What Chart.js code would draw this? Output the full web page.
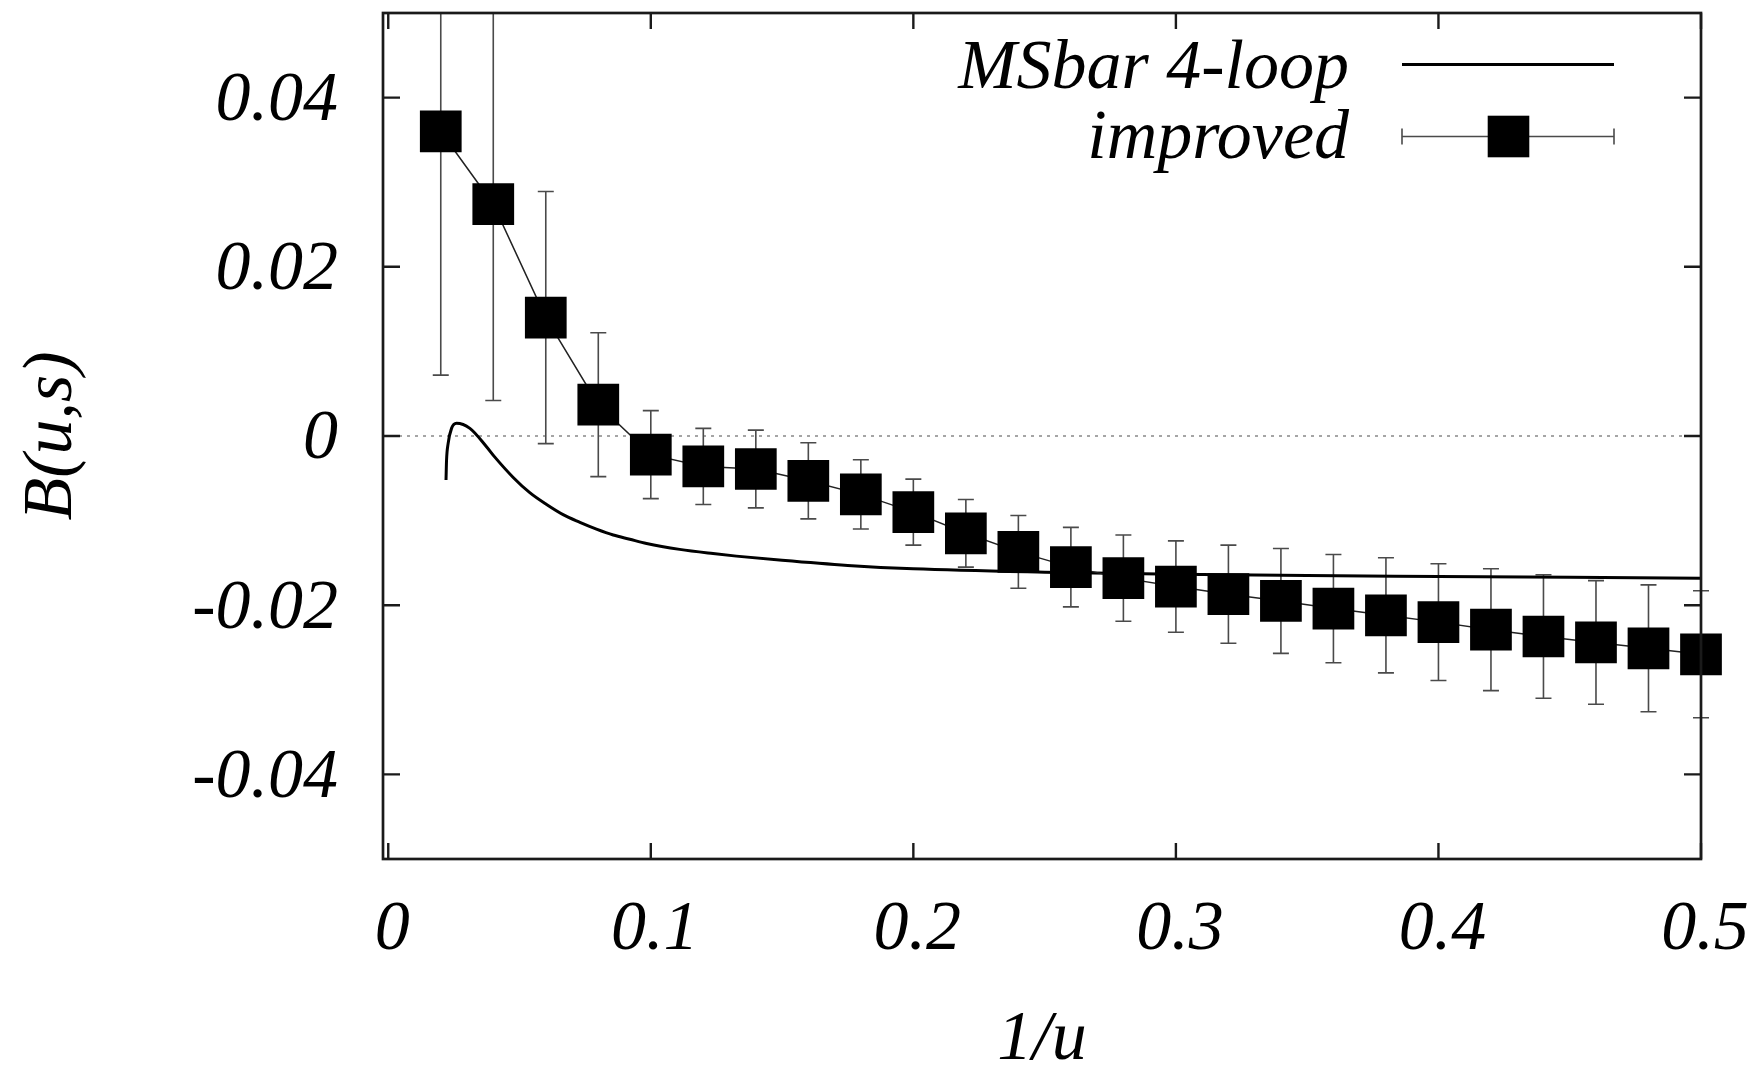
<!DOCTYPE html>
<html><head><meta charset="utf-8">
<script src="https://cdn.jsdelivr.net/npm/chart.js@4/dist/chart.umd.min.js"></script>
<style>html,body{margin:0;padding:0;background:#fff}canvas{display:block}</style>
</head><body>
<canvas id="c" width="1761" height="1066"></canvas>
<script>
// ---- data ----
const xTickValues = [0, 0.1, 0.2, 0.3, 0.4, 0.5];
const xTickLabels = ['0', '0.1', '0.2', '0.3', '0.4', '0.5'];
const yTickValues = [-0.04, -0.02, 0, 0.02, 0.04];
const yTickLabels = ['-0.04', '-0.02', '0', '0.02', '0.04'];

const improvedX = [0.02, 0.04, 0.06, 0.08, 0.10, 0.12, 0.14, 0.16, 0.18, 0.20, 0.22, 0.24, 0.26,
                   0.28, 0.30, 0.32, 0.34, 0.36, 0.38, 0.40, 0.42, 0.44, 0.46, 0.48, 0.50];
const improvedY = [0.0360, 0.0274, 0.0140, 0.0037, -0.0022, -0.0036, -0.0039, -0.0053, -0.0069,
                   -0.0090, -0.0115, -0.0137, -0.0155, -0.0168, -0.0178, -0.0187, -0.0195, -0.0204,
                   -0.0212, -0.0220, -0.0229, -0.0237, -0.0244, -0.0251, -0.0258];
const improvedErr = [0.0288, 0.0232, 0.0149, 0.0085, 0.0052, 0.0045, 0.0046, 0.0045, 0.0041,
                     0.0039, 0.0040, 0.0043, 0.0047, 0.0051, 0.0054, 0.0058, 0.0062, 0.0064,
                     0.0068, 0.0069, 0.0072, 0.0073, 0.0073, 0.0075, 0.0075];

const msbarX = [0.0220, 0.0222, 0.0228, 0.0241, 0.0260, 0.0311, 0.0375, 0.0406, 0.0476, 0.0539,
                0.0603, 0.0666, 0.0730, 0.0793, 0.0857, 0.0920, 0.0984, 0.1110, 0.1237, 0.1326,
                0.15, 0.175, 0.2, 0.25, 0.3, 0.35, 0.4, 0.45, 0.5];
const msbarY = [-0.0052, -0.0029, -0.0009, 0.0009, 0.0015, 0.0009, -0.0013, -0.0025, -0.0049,
                -0.0067, -0.0081, -0.0093, -0.0102, -0.0110, -0.0117, -0.0122, -0.0127, -0.0134,
                -0.0139, -0.0142, -0.0147, -0.0153, -0.0157, -0.0161, -0.01635, -0.0165,
                -0.0166, -0.0167, -0.0168];

const seriesLabels = ['improved', 'MSbar 4-loop'];
const xTitle = '1/u';
const yTitle = 'B(u,s)';

// ---- chart ----
const FONT = 'Liberation Serif';
Chart.defaults.font.family = FONT;
Chart.defaults.font.style = 'italic';
Chart.defaults.color = '#000';

const zip = (xs, ys) => xs.map((x, i) => ({x, y: ys[i]}));
const zeroPad = s => { s.paddingTop = 0; s.paddingBottom = 0; s.paddingLeft = 0; s.paddingRight = 0; };

const gnuplotPlugin = {
  id: 'gnuplot',
  beforeDatasetsDraw(chart) {
    const {ctx, chartArea: a, scales: {x, y}} = chart;
    ctx.save();
    // zero line (dotted)
    const y0 = y.getPixelForValue(0);
    ctx.strokeStyle = '#888';
    ctx.lineWidth = 1.6;
    ctx.setLineDash([3, 5]);
    ctx.beginPath();
    ctx.moveTo(a.left, y0);
    ctx.lineTo(a.right, y0);
    ctx.stroke();
    ctx.setLineDash([]);
    // error bars (clipped vertically to the plot)
    ctx.beginPath();
    ctx.rect(0, a.top, chart.width, a.bottom - a.top);
    ctx.clip();
    ctx.strokeStyle = '#4a4a4a';
    ctx.lineWidth = 1.6;
    for (let i = 0; i < improvedX.length; i++) {
      const px = x.getPixelForValue(improvedX[i]);
      const pt = y.getPixelForValue(improvedY[i] + improvedErr[i]);
      const pb = y.getPixelForValue(improvedY[i] - improvedErr[i]);
      ctx.beginPath();
      ctx.moveTo(px, pt); ctx.lineTo(px, pb);
      ctx.moveTo(px - 8, pt); ctx.lineTo(px + 8, pt);
      ctx.moveTo(px - 8, pb); ctx.lineTo(px + 8, pb);
      ctx.stroke();
    }
    ctx.restore();
  },
  afterDatasetsDraw(chart) {
    const {ctx, chartArea: a, scales: {x, y}} = chart;
    ctx.save();
    ctx.strokeStyle = '#1a1a1a';
    ctx.lineWidth = 2.7;
    ctx.strokeRect(a.left, a.top, a.right - a.left, a.bottom - a.top);
    ctx.lineWidth = 2.4;
    ctx.beginPath();
    x.ticks.forEach(t => {
      const px = x.getPixelForValue(t.value);
      ctx.moveTo(px, a.bottom); ctx.lineTo(px, a.bottom - 16);
      ctx.moveTo(px, a.top); ctx.lineTo(px, a.top + 16);
    });
    y.ticks.forEach(t => {
      const py = y.getPixelForValue(t.value);
      ctx.moveTo(a.left, py); ctx.lineTo(a.left + 17, py);
      ctx.moveTo(a.right, py); ctx.lineTo(a.right - 17, py);
    });
    ctx.stroke();

    // key (legend), gnuplot style
    const ds = chart.data.datasets;
    const textRight = 1349, sx0 = 1402, sx1 = 1614;
    ctx.font = 'italic 70px "' + FONT + '"';
    ctx.fillStyle = '#000';
    ctx.textAlign = 'right';
    ctx.textBaseline = 'alphabetic';
    ctx.fillText(ds[1].label, textRight, 88);
    ctx.strokeStyle = '#000';
    ctx.lineWidth = 3;
    ctx.beginPath(); ctx.moveTo(sx0, 64.5); ctx.lineTo(sx1, 64.5); ctx.stroke();
    ctx.fillText(ds[0].label, textRight, 158);
    const ky = 136.5;
    ctx.strokeStyle = '#4a4a4a';
    ctx.lineWidth = 1.6;
    ctx.beginPath();
    ctx.moveTo(sx0, ky); ctx.lineTo(sx1, ky);
    ctx.moveTo(sx0, ky - 8); ctx.lineTo(sx0, ky + 8);
    ctx.moveTo(sx1, ky - 8); ctx.lineTo(sx1, ky + 8);
    ctx.stroke();
    ctx.fillStyle = '#000';
    const cx = (sx0 + sx1) / 2 + 0.5;
    ctx.fillRect(cx - 20.8, ky - 20.8, 41.6, 41.6);
    ctx.restore();
  }
};

new Chart(document.getElementById('c'), {
  type: 'scatter',
  data: {
    datasets: [
      {
        label: seriesLabels[0],
        data: zip(improvedX, improvedY),
        showLine: true,
        clip: false,
        borderColor: '#222',
        borderWidth: 1.5,
        pointStyle: 'rect',
        pointRadius: 29.5,
        pointBorderWidth: 0,
        pointBackgroundColor: '#000',
        pointBorderColor: '#000',
        order: 1
      },
      {
        label: seriesLabels[1],
        data: zip(msbarX, msbarY),
        showLine: true,
        borderColor: '#000',
        borderWidth: 3,
        pointRadius: 0,
        cubicInterpolationMode: 'monotone',
        order: 2
      }
    ]
  },
  options: {
    responsive: false,
    animation: false,
    events: [],
    layout: {autoPadding: false, padding: {left: 0, top: 13, right: 60, bottom: 0}},
    plugins: {legend: {display: false}, tooltip: {enabled: false}, title: {display: false}},
    scales: {
      x: {
        type: 'linear',
        min: -0.002,
        max: 0.5,
        grid: {display: false, drawTicks: false},
        border: {display: false},
        afterBuildTicks: s => { s.ticks = xTickValues.map(v => ({value: v})); },
        afterFit: s => { s.height = 207; zeroPad(s); },
        ticks: {
          font: {size: 70, style: 'italic', family: FONT},
          color: '#000',
          padding: 30,
          labelOffset: 4,
          maxRotation: 0,
          autoSkip: false,
          callback: (v, i) => xTickLabels[i]
        },
        title: {
          display: true,
          text: xTitle,
          font: {size: 70, style: 'italic', family: FONT, lineHeight: 0.72},
          color: '#000',
          padding: {top: 0, bottom: 0}
        }
      },
      y: {
        type: 'linear',
        min: -0.05,
        max: 0.05,
        grid: {display: false, drawTicks: false},
        border: {display: false},
        afterBuildTicks: s => { s.ticks = yTickValues.map(v => ({value: v})); },
        afterFit: s => { s.width = 383; zeroPad(s); },
        ticks: {
          font: {size: 70, style: 'italic', family: FONT},
          color: '#000',
          padding: 45,
          labelOffset: 4,
          autoSkip: false,
          callback: (v, i) => yTickLabels[i]
        },
        title: {
          display: true,
          text: yTitle,
          font: {size: 70, style: 'italic', family: FONT},
          color: '#000',
          padding: {top: 11, bottom: 0}
        }
      }
    }
  },
  plugins: [gnuplotPlugin]
});
</script>
</body></html>
